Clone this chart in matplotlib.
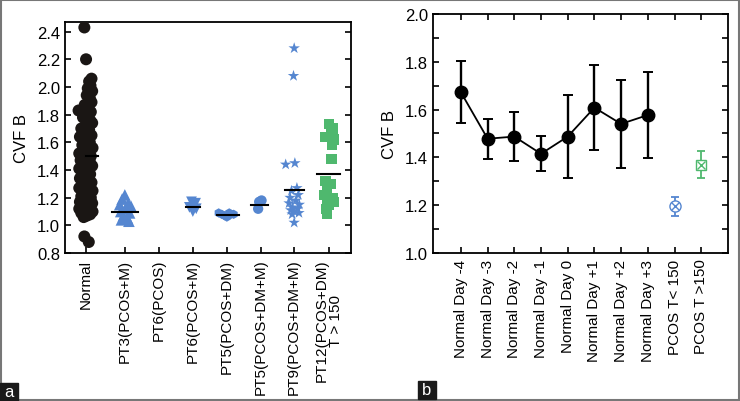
import numpy as np
import matplotlib.pyplot as plt
from matplotlib.patches import Rectangle

plt.rcParams['font.family'] = ['Liberation Sans', 'DejaVu Sans']

# ---- panel a data ----
groups_a = ["Normal", "PT3(PCOS+M)", "PT6(PCOS)", "PT6(PCOS+M)", "PT5(PCOS+DM)",
            "PT5(PCOS+DM+M)", "PT9(PCOS+DM+M)", "PT12(PCOS+DM)\nT > 150"]

normal_vals = [2.43, 2.20, 2.06, 2.04, 2.01, 1.99, 1.97, 1.94, 1.92, 1.89, 1.87, 1.86,
               1.83, 1.82, 1.80, 1.78, 1.76, 1.74, 1.72, 1.70, 1.69, 1.67, 1.65, 1.64,
               1.62, 1.60, 1.58, 1.56, 1.55, 1.53, 1.52, 1.51, 1.50, 1.48, 1.47, 1.46,
               1.44, 1.43, 1.41, 1.40, 1.38, 1.37, 1.36, 1.34, 1.33, 1.31, 1.30, 1.29,
               1.27, 1.26, 1.25, 1.24, 1.22, 1.21, 1.20, 1.19, 1.18, 1.17, 1.16, 1.15,
               1.14, 1.13, 1.12, 1.11, 1.10, 1.10, 1.09, 1.08, 1.07, 1.06, 0.92, 0.88]
normal_jit = [-0.05, 0.0, 0.16, 0.09, 0.13, 0.05, 0.18, 0.02, 0.11, 0.16, -0.04, 0.07,
              -0.22, 0.14, 0.04, -0.09, 0.12, 0.18, -0.02, -0.14, 0.09, -0.05, 0.16, -0.18,
              0.04, 0.11, -0.11, 0.19, -0.04, 0.05, -0.2, -0.12, 0.14, 0.0, -0.16, 0.11,
              -0.07, 0.18, -0.2, 0.04, -0.11, 0.12, -0.02, -0.18, 0.07, 0.16, -0.09, 0.0,
              -0.2, 0.11, 0.19, -0.05, 0.05, -0.14, 0.14, -0.02, 0.09, -0.18, 0.18, 0.0,
              -0.11, 0.11, -0.2, 0.05, -0.05, 0.19, -0.14, 0.12, 0.02, -0.07, -0.05, 0.08]

pt3_vals = [1.22, 1.19, 1.16, 1.15, 1.14, 1.12, 1.10, 1.09, 1.07, 1.05, 1.04, 1.03]
pt3_jit = [0.0, -0.08, 0.1, -0.15, 0.18, 0.02, -0.12, 0.14, -0.04, 0.08, -0.1, 0.12]

pt6m_vals = [1.17, 1.16, 1.13, 1.12, 1.10]
pt6m_jit = [-0.04, 0.08, -0.1, 0.1, 0.0]

pt5dm_vals = [1.09, 1.08, 1.07, 1.07, 1.08, 1.06, 1.08, 1.09]
pt5dm_jit = [-0.24, -0.15, -0.06, 0.03, 0.12, 0.0, 0.2, 0.07]

pt5dmm_vals = [1.18, 1.17, 1.12]
pt5dmm_jit = [0.02, -0.05, -0.08]

pt9_vals = [2.28, 2.08, 1.45, 1.44, 1.27, 1.25, 1.22, 1.20, 1.18, 1.16, 1.15, 1.13,
            1.12, 1.11, 1.10, 1.09, 1.08, 1.02]
pt9_jit = [0.0, -0.02, 0.02, -0.25, 0.08, -0.08, 0.12, -0.12, 0.05, -0.15, 0.15, -0.05,
           0.1, -0.1, 0.0, 0.14, -0.06, 0.0]

pt12_vals = [1.73, 1.70, 1.67, 1.64, 1.62, 1.58, 1.48, 1.32, 1.30, 1.27, 1.22, 1.20,
             1.18, 1.17, 1.15, 1.12, 1.08]
pt12_jit = [0.0, 0.12, 0.08, -0.1, 0.15, 0.1, 0.08, -0.1, 0.05, -0.05, -0.15, 0.12,
            -0.05, 0.15, 0.0, -0.08, -0.05]

means_a = [1.50, 1.095, None, 1.13, 1.075, 1.15, 1.255, 1.37]

# ---- panel b data ----
days_b = ["Normal Day -4", "Normal Day -3", "Normal Day -2", "Normal Day -1",
          "Normal Day 0", "Normal Day +1", "Normal Day +2", "Normal Day +3",
          "PCOS T< 150", "PCOS T >150"]
normal_mean = [1.672, 1.478, 1.487, 1.415, 1.487, 1.608, 1.540, 1.577]
normal_err = [0.130, 0.083, 0.103, 0.073, 0.175, 0.178, 0.183, 0.180]
pcos_lo_mean, pcos_lo_err = 1.195, 0.04
pcos_hi_mean, pcos_hi_err = 1.37, 0.055

blue = '#5586d0'
green = '#4fb86e'

fig = plt.figure(figsize=(7.4, 4.02), dpi=100)

# ---------------- panel a ----------------
ax = fig.add_axes([0.0878, 0.368, 0.3865, 0.575])
pos_a = [0.62, 1.76, 2.76, 3.76, 4.76, 5.76, 6.74, 7.76]
mean_hw = [(0.0, 0.35), (-0.37, 0.4), None, (-0.2, 0.2), (-0.3, 0.35),
           (-0.3, 0.2), (-0.28, 0.28), (-0.34, 0.34)]

ax.scatter(pos_a[0] + np.array(normal_jit), normal_vals, s=75, c='#1a1614', marker='o',
           edgecolors='none', zorder=3)
ax.scatter(pos_a[1] + np.array(pt3_jit), pt3_vals, s=70, c=blue, marker='^',
           edgecolors='none', zorder=3)
ax.scatter(pos_a[3] + np.array(pt6m_jit), pt6m_vals, s=60, c=blue, marker='v',
           edgecolors='none', zorder=3)
ax.scatter(pos_a[4] + np.array(pt5dm_jit), pt5dm_vals, s=45, c=blue, marker='h',
           edgecolors='none', zorder=3)
ax.scatter(pos_a[5] + np.array(pt5dmm_jit), pt5dmm_vals, s=55, c=blue, marker='o',
           edgecolors='none', zorder=3)
ax.scatter(pos_a[6] + np.array(pt9_jit), pt9_vals, s=75, c=blue, marker='*',
           edgecolors='none', zorder=3)
ax.scatter(pos_a[7] + np.array(pt12_jit), pt12_vals, s=55, c=green, marker='s',
           edgecolors='none', zorder=3)

for p, m, hw in zip(pos_a, means_a, mean_hw):
    if m is None:
        continue
    ax.plot([p + hw[0], p + hw[1]], [m, m], color='black', lw=1.5, zorder=4)

ax.set_xlim(0, 8.41)
ax.set_ylim(0.8, 2.47)
ax.set_yticks(np.arange(0.8, 2.41, 0.2))
ax.set_yticklabels([f"{v:.1f}" for v in np.arange(0.8, 2.41, 0.2)])
ax.set_xticks(pos_a)
ax.set_xticklabels(groups_a, rotation=90, fontsize=11, va='top', linespacing=1.0)
ax.tick_params(axis='y', direction='in', right=True, labelsize=12, length=4, width=1.2)
ax.tick_params(axis='x', direction='in', length=4, width=1.2, pad=4)
ax.set_ylabel("CVF B", fontsize=12, labelpad=6)
for s in ax.spines.values():
    s.set_linewidth(1.3)

# ---------------- panel b ----------------
bx = fig.add_axes([0.585, 0.368, 0.399, 0.595])
pos_b = np.arange(1, len(days_b) + 1)
bx.errorbar(pos_b[:8], normal_mean, yerr=normal_err, color='black', marker='o', ms=9,
            lw=1.3, elinewidth=1.7, capsize=3.5, capthick=1.4, zorder=3)
bx.errorbar([pos_b[8]], [pcos_lo_mean], yerr=[pcos_lo_err], color=blue, marker='o', ms=8,
            mfc='white', mec=blue, lw=0, elinewidth=1.3, capsize=3, capthick=1.3, zorder=3)
bx.plot([pos_b[8]], [pcos_lo_mean], marker='x', ms=6, color=blue, mew=1.0, zorder=4)
bx.errorbar([pos_b[9]], [pcos_hi_mean], yerr=[pcos_hi_err], color=green, marker='s', ms=7,
            mfc='white', mec=green, lw=0, elinewidth=1.3, capsize=3, capthick=1.3, zorder=3)
bx.plot([pos_b[9]], [pcos_hi_mean], marker='x', ms=6, color=green, mew=1.0, zorder=4)

bx.set_xlim(-0.05, 11.01)
bx.set_ylim(1.0, 2.0)
bx.set_yticks(np.arange(1.0, 2.01, 0.2))
bx.set_yticklabels([f"{v:.1f}" for v in np.arange(1.0, 2.01, 0.2)])
bx.set_yticks(np.arange(1.1, 2.0, 0.2), minor=True)
bx.set_xticks(pos_b)
bx.set_xticklabels(days_b, rotation=90, fontsize=11, va='top')
bx.tick_params(axis='y', which='both', direction='in', right=True, labelsize=12,
               length=4, width=1.2)
bx.tick_params(axis='x', direction='in', top=True, length=4, width=1.2, pad=4)
bx.set_ylabel("CVF B", fontsize=12, labelpad=6)
for s in bx.spines.values():
    s.set_linewidth(1.3)

# panel letters
fig.add_artist(Rectangle((0, 0), 18 / 740, 18 / 402, transform=fig.transFigure,
                         color='#1a1a1a', zorder=5))
fig.text(9 / 740, 9 / 402, "a", color='white', fontsize=12, ha='center', va='center',
         zorder=6)
fig.add_artist(Rectangle((418 / 740, 2 / 402), 18 / 740, 18 / 402, transform=fig.transFigure,
                         color='#1a1a1a', zorder=5))
fig.text(427 / 740, 11 / 402, "b", color='white', fontsize=12, ha='center', va='center',
         zorder=6)

# outer grey frame
fig.add_artist(Rectangle((0.001, 0.002), 0.997, 0.995, transform=fig.transFigure,
                         fill=False, edgecolor='#777777', lw=1.5))

fig.savefig("out.png", dpi=100)
